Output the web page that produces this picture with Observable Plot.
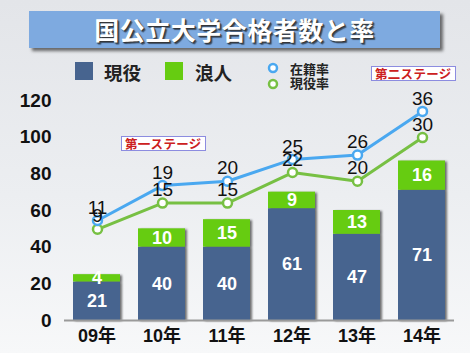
<!DOCTYPE html>
<html><head><meta charset="utf-8">
<script src="https://cdn.jsdelivr.net/npm/d3@7"></script>
<script src="https://cdn.jsdelivr.net/npm/@observablehq/plot@0.6"></script>
<style>
html,body{margin:0;padding:0;}
body{width:470px;height:353px;overflow:hidden;font-family:"Liberation Sans","Noto Sans CJK JP",sans-serif;
background:linear-gradient(180deg,#e3e5e9 0%,#eceef1 55%,#f7f8f9 100%);}
#wrap{position:relative;width:470px;height:353px;}
.abs{position:absolute;}
#banner{left:29px;top:11px;width:411px;height:37px;background:#7eaae0;box-shadow:3px 3px 3px rgba(0,0,0,0.55);}
#title{left:29px;top:11px;width:411px;height:37px;line-height:37px;text-align:center;color:#fff;font-size:25px;font-weight:bold;
font-family:"Noto Sans CJK JP",sans-serif;text-shadow:1px 1px 1px #333,2px 2px 1px rgba(0,0,0,0.5);letter-spacing:0.5px;}
.sq{width:18px;height:18px;}
.lg{font-family:"Noto Sans CJK JP",sans-serif;font-weight:bold;color:#222;}
.stage{background:#fff;border:1.5px solid #8c8ce0;color:#cc2020;font-family:"Noto Sans CJK JP",sans-serif;font-weight:bold;
font-size:12.5px;line-height:13px;padding:0 3px;letter-spacing:0.3px;}
svg.plot{position:absolute;left:0;top:0;}
g[aria-label="bar"]{filter:drop-shadow(2px 1px 1px rgba(0,0,0,0.55));}
</style>
</head><body><div id="wrap">
<div id="banner" class="abs"></div>
<div id="title" class="abs">国公立大学合格者数と率</div>
<div class="abs sq" style="left:75px;top:62px;background:#47648f"></div>
<div class="abs lg" style="left:104px;top:59px;font-size:18.5px">現役</div>
<div class="abs sq" style="left:165px;top:62px;background:#66cc11"></div>
<div class="abs lg" style="left:195px;top:59px;font-size:18.5px">浪人</div>
<svg class="abs" style="left:266px;top:61px" width="16" height="32">
<circle cx="7" cy="7" r="4" fill="#fff" stroke="#4aa8f0" stroke-width="2.5"/>
<circle cx="7" cy="23" r="4" fill="#fff" stroke="#77c043" stroke-width="2.5"/>
</svg>
<div class="abs lg" style="left:290px;top:62px;font-size:13px;line-height:14px">在籍率<br>現役率</div>
<div class="abs stage" style="left:371px;top:66px">第二ステージ</div>
<div class="abs stage" style="left:121px;top:136px">第一ステージ</div>
<div id="chart"></div>
</div>
<script>
const years = ["09年","10年","11年","12年","13年","14年"];
const genekiCount = [21,40,40,61,47,71];
const roninCount = [4,10,15,9,13,16];
const zaisekiRate = [11,19,20,25,26,36];
const genekiRate = [9,15,15,22,20,30];
const yTicks = [0,20,40,60,80,100,120];

const rows = [];
years.forEach((y,i)=>rows.push({year:y,type:"現役",value:genekiCount[i]}));
years.forEach((y,i)=>rows.push({year:y,type:"浪人",value:roninCount[i]}));
const rates = years.map((y,i)=>({year:y,z:zaisekiRate[i],g:genekiRate[i]}));

const W=470,H=353;
const common = {width:W,height:H,marginLeft:64,marginRight:16,marginTop:100,marginBottom:33};
const xOpt = {domain:years,paddingInner:0.28,paddingOuter:0.14,label:null};
const ff = "'Liberation Sans','Noto Sans CJK JP',sans-serif";

const p1 = Plot.plot({
  ...common,
  style:{background:"transparent",fontFamily:ff,overflow:"visible"},
  x:{...xOpt,tickSize:0,tickPadding:9},
  y:{domain:[0,120],ticks:yTicks,label:null,tickSize:0,tickPadding:13},
  color:{domain:["現役","浪人"],range:["#47648f","#66cc11"]},
  marks:[
    Plot.gridY(yTicks,{x1:63,stroke:"#c8cacd",strokeOpacity:1,strokeWidth:1.2}),
    Plot.barY(rows,{x:"year",y:"value",fill:"type"}),
    Plot.ruleY([0],{stroke:"#9a9a9a",strokeWidth:2}),
    Plot.text(rows,Plot.stackY({x:"year",y:"value",z:"type",text:"value",fill:"#fff",fontSize:18,fontWeight:"bold"})),
    Plot.axisY(yTicks,{tickSize:0,tickPadding:13,fontSize:19,fontWeight:"bold",fill:"#111",label:null}),
    Plot.axisX({tickSize:0,tickPadding:9,fontSize:18,fontWeight:"bold",fill:"#111",label:null,fontFamily:ff})
  ]
});
p1.classList.add("plot");

const p2 = Plot.plot({
  ...common,
  style:{background:"transparent",fontFamily:"'Liberation Sans',sans-serif",overflow:"visible"},
  x:{...xOpt,axis:null},
  y:{domain:[-11.9,38.5],axis:null},
  marks:[
    Plot.line(rates,{x:"year",y:"g",stroke:"#77c043",strokeWidth:3}),
    Plot.line(rates,{x:"year",y:"z",stroke:"#4aa8f0",strokeWidth:3}),
    Plot.dot(rates,{x:"year",y:"g",r:4.5,fill:"#fff",stroke:"#77c043",strokeWidth:2.5}),
    Plot.dot(rates,{x:"year",y:"z",r:4.5,fill:"#fff",stroke:"#4aa8f0",strokeWidth:2.5}),
    Plot.text(rates,{x:"year",y:"z",text:"z",dy:-13,fontSize:19,fill:"#111"}),
    Plot.text(rates,{x:"year",y:"g",text:"g",dy:-13,fontSize:19,fill:"#111"})
  ]
});
p2.classList.add("plot");
const c=document.getElementById("chart");
c.appendChild(p1);c.appendChild(p2);
</script>
</body></html>
